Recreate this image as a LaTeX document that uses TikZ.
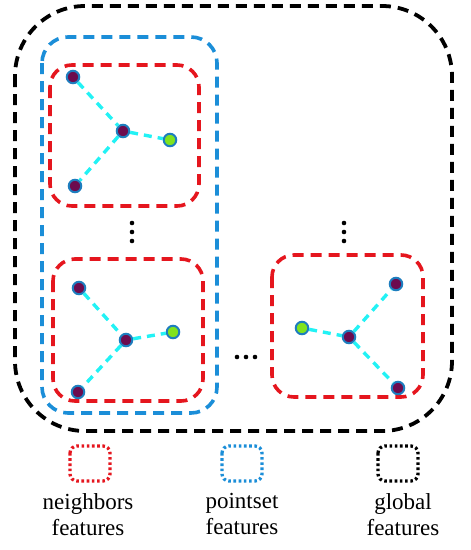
\documentclass[tikz,border=0pt]{standalone}
\usepackage{fontspec}
\setmainfont{Liberation Serif}
\definecolor{cred}{HTML}{E5161E}
\definecolor{cblue}{HTML}{1B8ED8}
\definecolor{ccyan}{HTML}{22F2F5}
\definecolor{cpurple}{HTML}{6C0B4E}
\definecolor{cgreen}{HTML}{80E31E}
\definecolor{cborder}{HTML}{1D7DBE}
\tikzset{
  gbox/.style={draw=black, line width=3.8pt, dash pattern=on 11pt off 7pt, rounded corners=70pt},
  pbox/.style={draw=cblue, line width=3.6pt, dash pattern=on 11pt off 7pt, rounded corners=26pt},
  nbox/.style={draw=cred, line width=3.6pt, dash pattern=on 11pt off 7pt, rounded corners=22pt},
  pt/.style={circle, draw=cborder, line width=2pt, fill=cpurple, minimum size=12.5pt, inner sep=0pt},
  gpt/.style={pt, fill=cgreen},
  edge/.style={draw=ccyan, line width=3.4pt, dash pattern=on 8pt off 6pt},
  legbox/.style={line width=3.3pt, dash pattern=on 2.6pt off 2.6pt, rounded corners=7pt},
  legtext/.style={font=\fontsize{23pt}{26.5pt}\selectfont, align=center, inner sep=0pt},
  dotmark/.style={fill=black}
}
\begin{document}
\begin{tikzpicture}[x=1pt,y=-1pt]
\useasboundingbox (0,0) rectangle (471,550);
% boxes
\draw[gbox] (15,6) rectangle (452,431);
\draw[pbox] (42,37) rectangle (217,413);
\draw[nbox] (50,65) rectangle (199,206);
\draw[nbox] (53,259) rectangle (203,401);
\draw[nbox] (272,255) rectangle (423,397);
% group 1
\node[pt] (a1) at (73,77) {};
\node[pt] (a2) at (123,131) {};
\node[gpt] (a3) at (170,140) {};
\node[pt] (a4) at (75,186) {};
\draw[edge] (a1) -- (a2);
\draw[edge] (a2) -- (a3);
\draw[edge] (a2) -- (a4);
% group 2
\node[pt] (b1) at (79,288) {};
\node[pt] (b2) at (126,340) {};
\node[gpt] (b3) at (173,332) {};
\node[pt] (b4) at (78,392) {};
\draw[edge] (b1) -- (b2);
\draw[edge] (b2) -- (b3);
\draw[edge] (b2) -- (b4);
% group 3
\node[gpt] (c1) at (302,328) {};
\node[pt] (c2) at (349,337) {};
\node[pt] (c3) at (396,284) {};
\node[pt] (c4) at (398,388) {};
\draw[edge] (c1) -- (c2);
\draw[edge] (c2) -- (c3);
\draw[edge] (c2) -- (c4);
% ellipsis dots
\foreach \y in {223,232,241}{\fill[dotmark] (132,\y) circle (2.3pt);}
\foreach \y in {223,232,241}{\fill[dotmark] (344,\y) circle (2.3pt);}
\foreach \x in {237,246,255}{\fill[dotmark] (\x,357) circle (2.3pt);}
% legend
\draw[legbox, draw=cred] (70,446) rectangle (110,481);
\draw[legbox, draw=cblue] (222,446) rectangle (262,481);
\draw[legbox, draw=black] (378,446) rectangle (418,481);
\node[legtext, anchor=north] (l1) at (88,493) {neighbors\\features};
\node[legtext, anchor=north] (l2) at (242,493) {pointset\\features};
\node[legtext, anchor=north] (l3) at (403,493) {global\\features};
\end{tikzpicture}
\end{document}
